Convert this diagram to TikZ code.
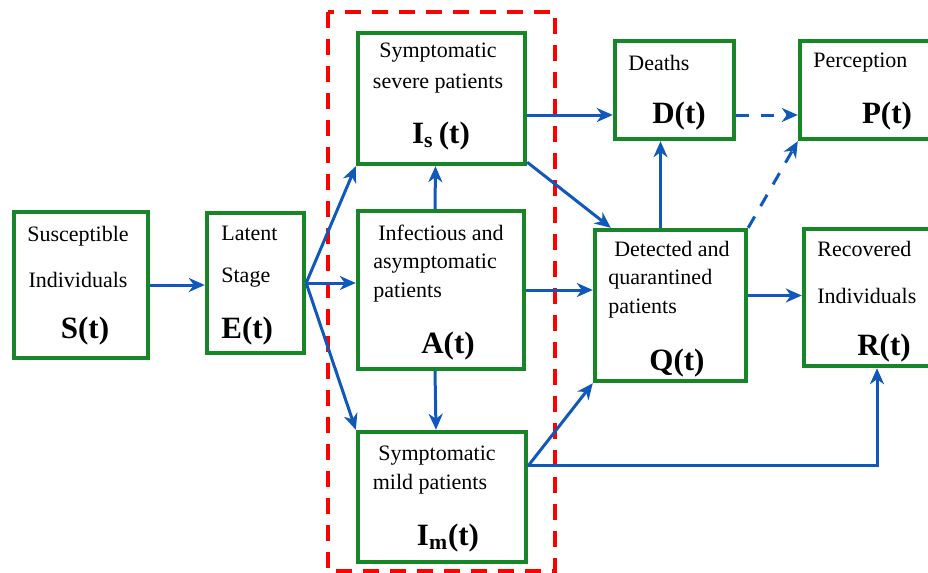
\documentclass[tikz,border=0pt]{standalone}
\usepackage{fontspec}
\setmainfont{Liberation Serif}
\usetikzlibrary{arrows.meta,calc}
\definecolor{boxgreen}{RGB}{22,134,38}
\definecolor{flowblue}{RGB}{16,88,186}
\tikzset{
  box/.style={draw=boxgreen,line width=2.2pt,inner sep=0pt},
  txt/.style={font=\fontsize{11}{13}\selectfont,inner sep=0pt},
  var/.style={font=\fontsize{15.5}{18}\selectfont\bfseries,inner sep=0pt},
  flow/.style={draw=flowblue,line width=1.5pt,-{Stealth[length=8pt,width=7pt,inset=2.5pt]}},
  dflow/.style={flow,dash pattern=on 6.5pt off 6pt},
}
\begin{document}
\begin{tikzpicture}[x=0.5pt,y={(0pt,-0.5pt)}]
    \useasboundingbox (0,0) rectangle (928,573);
    % group of infectious compartments
    \draw[red,line width=2pt,dash pattern=on 8pt off 5.5pt] (328,12) rectangle (555,571);
    % compartments
    \node[box,minimum width=67pt,minimum height=73pt] (S) at (81,285) {};
    \node[box,minimum width=48.5pt,minimum height=70pt] (E) at (255.5,283) {};
    \node[box,minimum width=83.5pt,minimum height=65.5pt] (Is) at (441.5,98.5) {};
    \node[box,minimum width=83pt,minimum height=79pt] (A) at (441,290) {};
    \node[box,minimum width=84pt,minimum height=65pt] (Im) at (442,497) {};
    \node[box,minimum width=59.5pt,minimum height=49pt] (D) at (674.5,90) {};
    \node[box,minimum width=70pt,minimum height=49pt] (P) at (870,90) {};
    \node[box,minimum width=75.5pt,minimum height=75.5pt] (Q) at (670.5,305.5) {};
    \node[box,minimum width=70pt,minimum height=68.5pt] (R) at (874,297.5) {};
    % texts
    \node[txt] (s1) at (78,236) {Susceptible};
    \node[txt] (s2) at (78,280) {Individuals};
    \node[var] (s3) at (85,331) {S(t)};
    \node[txt,anchor=west] (e1) at (221,233) {Latent};
    \node[txt,anchor=west] (e2) at (221,278) {Stage};
    \node[var,anchor=west] (e3) at (221,331) {E(t)};
    \node[txt] (is1) at (438,53) {Symptomatic};
    \node[txt] (is2) at (438,84) {severe patients};
    \node[var] (is3) at (441,136) {I\textsubscript{s}\,(t)};
    \node[txt] (a1) at (441,233) {Infectious and};
    \node[txt,anchor=west] (a2) at (373,264) {asymptomatic};
    \node[txt,anchor=west] (a3) at (373,293) {patients};
    \node[var] (a4) at (448,346) {A(t)};
    \node[txt] (im1) at (437,456) {Symptomatic};
    \node[txt] (im2) at (430,484) {mild patients};
    \node[var] (im3) at (448,538) {I\textsubscript{m}(t)};
    \node[txt,anchor=west] (d1) at (628,63) {Deaths};
    \node[var] (d2) at (679,116) {D(t)};
    \node[txt,anchor=west] (p1) at (813,63) {Perception};
    \node[var] (p2) at (887,116) {P(t)};
    \node[txt] (q1) at (672,249) {Detected and};
    \node[txt,anchor=west] (q2) at (608,279) {quarantined};
    \node[txt,anchor=west] (q3) at (608,309) {patients};
    \node[var] (q4) at (677,363) {Q(t)};
    \node[txt,anchor=west] (r1) at (817,249) {Recovered};
    \node[txt,anchor=west] (r2) at (817,296) {Individuals};
    \node[var] (r3) at (884,348) {R(t)};
    % flows
    \coordinate (fan) at (E.east);
    \coordinate (imr) at ($(Im.north east)+(0,36)$);
    \draw[flow] (S.east) -- (S.east -| E.west);
    \draw[flow] (fan) -- (Is.south west);
    \draw[flow] (fan) -- (fan -| A.west);
    \draw[flow] (fan) -- (Im.north west);
    \draw[flow] ([xshift=-3pt]A.north) -- ([xshift=-3pt]Is.south);
    \draw[flow] ([xshift=-3pt]A.south) -- ([xshift=-3pt]Im.north);
    \draw[flow] ([yshift=-8.25pt]Is.east) -- ([yshift=-8.25pt]Is.east -| D.west);
    \draw[flow] ([yshift=2pt]Is.south east) -- ($(Q.north west)+(18,0)$);
    \draw[flow] (A.east) -- (A.east -| Q.west);
    \draw[flow] (imr) -- (Q.south west);
    \draw[flow] (imr) -| ([xshift=1.5pt]R.south);
    \draw[flow] ([xshift=-5pt]Q.north) -- ([xshift=-5pt]Q.north |- D.south);
    \draw[flow] ([yshift=5pt]Q.east) -- ([yshift=5pt]Q.east -| R.west);
    \draw[dflow] ([yshift=-12.5pt]D.east) -- ([yshift=-12.5pt]D.east -| P.west);
    \draw[dflow] (Q.north east) -- (P.south west);
\end{tikzpicture}
\end{document}
